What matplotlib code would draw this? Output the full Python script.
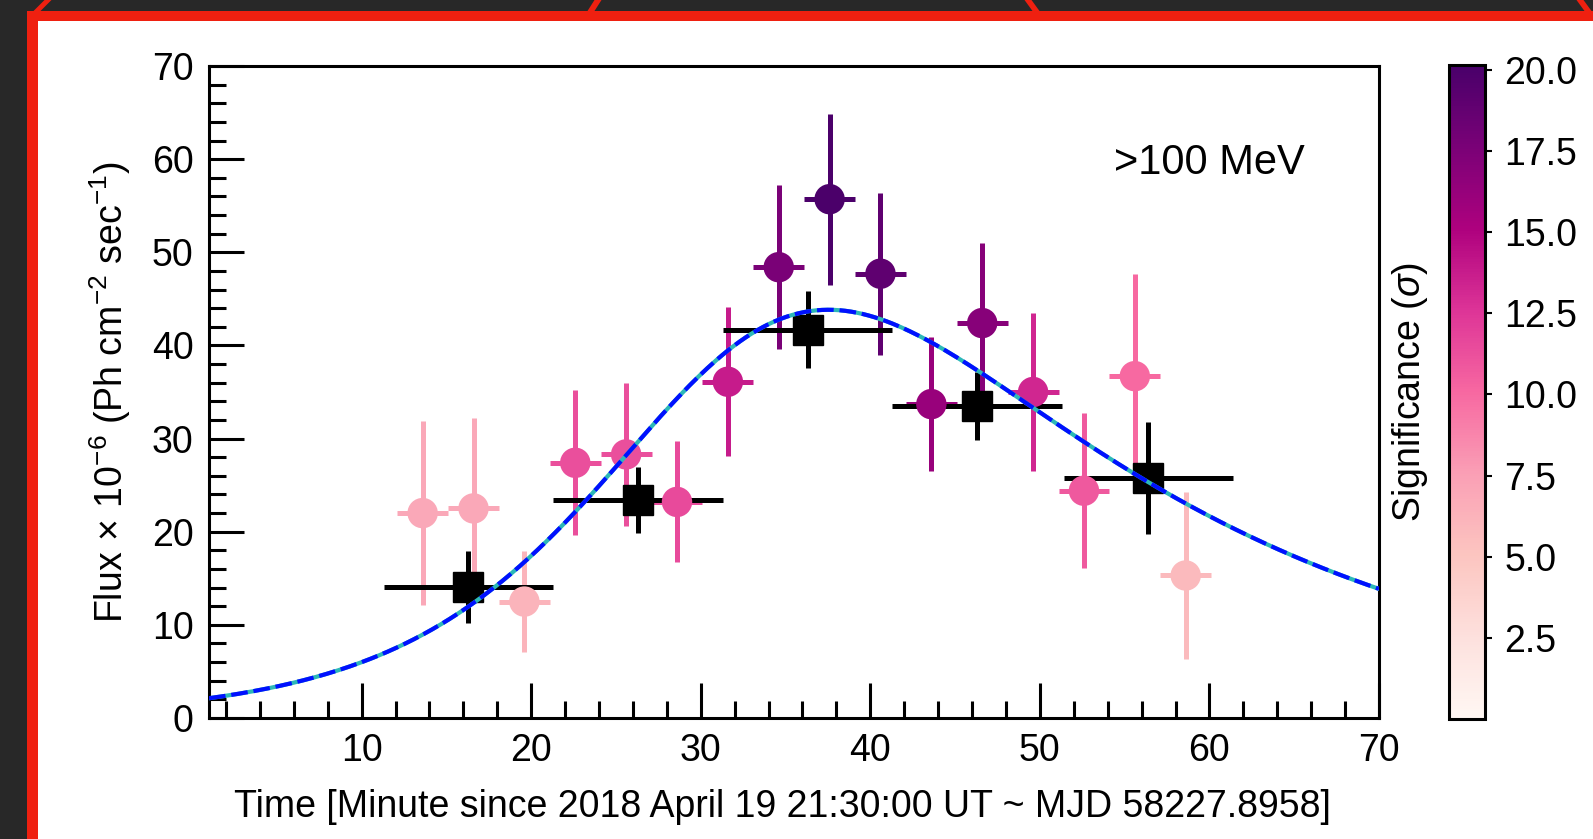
import numpy as np
import matplotlib
matplotlib.use('Agg')
import matplotlib.pyplot as plt
from matplotlib.patches import Rectangle, Polygon
from matplotlib.ticker import MultipleLocator, FormatStrFormatter

plt.rcParams['font.family'] = ['Liberation Sans', 'DejaVu Sans']
plt.rcParams['mathtext.fontset'] = 'custom'
plt.rcParams['mathtext.rm'] = 'Liberation Sans'
plt.rcParams['mathtext.it'] = 'Liberation Sans:italic'
plt.rcParams['mathtext.bf'] = 'Liberation Sans:bold'

# 3-minute bins (flux in 1e-6 ph/cm2/s)
t_3min = [13.6, 16.6, 19.6, 22.6, 25.6, 28.6, 31.6, 34.6,
          37.6, 40.6, 43.6, 46.6, 49.6, 52.6, 55.6, 58.6]
flux_3min = [22.0, 22.5, 12.5, 27.4, 28.3, 23.2, 36.1, 48.4,
             55.7, 47.7, 33.7, 42.4, 35.0, 24.4, 36.7, 15.3]
err_3min = [9.9, 9.7, 5.4, 7.8, 7.7, 6.5, 8.0, 8.8,
            9.2, 8.7, 7.2, 8.6, 8.5, 8.3, 11.0, 9.0]
sig_3min = [7.0, 7.0, 6.2, 11.3, 11.3, 11.5, 13.8, 17.6,
            20.0, 19.0, 16.2, 17.0, 13.3, 10.8, 10.0, 5.8]
half_width_3min = 1.5

# 10-minute bins
t_10min = [16.3, 26.3, 36.3, 46.3, 56.4]
flux_10min = [14.1, 23.4, 41.7, 33.5, 25.8]
err_10min = [3.85, 3.5, 4.15, 3.6, 6.0]
half_width_10min = 5.0

# flare profile fit: 2*F0 / (exp((t0-t)/Tr) + exp((t-t0)/Td))
F0, T0, T_RISE, T_DECAY = 39.6, 31.7, 8.5, 22.0

W, H = 1593, 839
fig = plt.figure(figsize=(W / 100, H / 100), dpi=100, facecolor='#282828')


def fx(x):
    return x / W


def fy(y):
    return 1 - y / H


def box(x0, y0, x1, y1, color):
    fig.add_artist(Rectangle((fx(x0), fy(y1)), fx(x1 - x0), (y1 - y0) / H,
                             transform=fig.transFigure, facecolor=color,
                             lw=0, zorder=-10))


def slant(xb, xt, w, color):
    # thin slanted stripe from bottom (y=11) to top (y=0) of the tab strip
    pts = [(fx(xb - w / 2), fy(11)), (fx(xb + w / 2), fy(11)),
           (fx(xt + w / 2), fy(0)), (fx(xt - w / 2), fy(0))]
    fig.add_artist(Polygon(pts, closed=True, transform=fig.transFigure,
                           facecolor=color, lw=0, zorder=-9))


red = '#ef2010'
box(38, 21, W, H, 'white')
box(27, 11, W, 21, red)
box(27, 11, 38, H, red)
slant(37, 48, 7, red)
slant(591, 598, 7, red)
slant(1036, 1028, 7, red)
slant(1588, 1580, 7, red)

ax = fig.add_axes([fx(209), fy(718), fx(1379 - 209), (718 - 66) / H])
cax = fig.add_axes([fx(1449), fy(719), fx(36), (719 - 65) / H])

vmin, vmax = 0.0, 20.15
cmap = plt.get_cmap('RdPu')
norm = plt.Normalize(vmin, vmax)

for t, f, e, s in zip(t_3min, flux_3min, err_3min, sig_3min):
    ax.errorbar(t, f, xerr=half_width_3min, yerr=e, fmt='none',
                ecolor=cmap(norm(s)), elinewidth=3.6, capsize=0, zorder=2)

ax.errorbar(t_10min, flux_10min, xerr=half_width_10min, yerr=err_10min,
            fmt='s', color='black', ms=22, elinewidth=3.6, capsize=0, zorder=3)

sc = ax.scatter(t_3min, flux_3min, c=sig_3min, cmap=cmap, norm=norm,
                s=480, lw=0, zorder=4)

tt = np.linspace(1, 70, 400)
model = 2 * F0 / (np.exp((T0 - tt) / T_RISE) + np.exp((tt - T0) / T_DECAY))
ax.plot(tt, model, color='#2cb8b8', lw=3, zorder=5)
ax.plot(tt, model, color='#0010ff', lw=3, ls=(0, (4, 1.4)), zorder=6)

ax.text(60.0, 59.6, '>100 MeV', ha='center', va='center', fontsize=30)

ax.set_xlim(1, 70)
ax.set_ylim(0, 70)
ax.xaxis.set_major_locator(MultipleLocator(10))
ax.xaxis.set_minor_locator(MultipleLocator(2))
ax.yaxis.set_major_locator(MultipleLocator(10))
ax.yaxis.set_minor_locator(MultipleLocator(2))
ax.tick_params(which='both', direction='in', width=2.2, labelsize=27,
               top=False, right=False)
ax.tick_params(which='major', length=25, pad=11)
ax.tick_params(which='minor', length=12)
for sp in ax.spines.values():
    sp.set_linewidth(2.2)

ax.set_xlabel('Time [Minute since 2018 April 19 21:30:00 UT ~ MJD 58227.8958]',
              fontsize=27)
ax.xaxis.set_label_coords(0.49, -0.109)
ax.set_ylabel(r'Flux$\,\times\,10^{-6}$ (Ph cm$^{-2}$ sec$^{-1}$)',
              fontsize=27, labelpad=14)

cb = fig.colorbar(sc, cax=cax)
cb.set_ticks([2.5, 5.0, 7.5, 10.0, 12.5, 15.0, 17.5, 20.0])
cb.ax.yaxis.set_major_formatter(FormatStrFormatter('%.1f'))
cb.outline.set_linewidth(2.2)
cax.tick_params(length=5, width=1.5, labelsize=27, pad=9)
cb.set_label(r'Significance ($\sigma$)', fontsize=27, labelpad=14)
cax.yaxis.set_label_position('left')

fig.savefig('out.png', dpi=100, facecolor=fig.get_facecolor())
